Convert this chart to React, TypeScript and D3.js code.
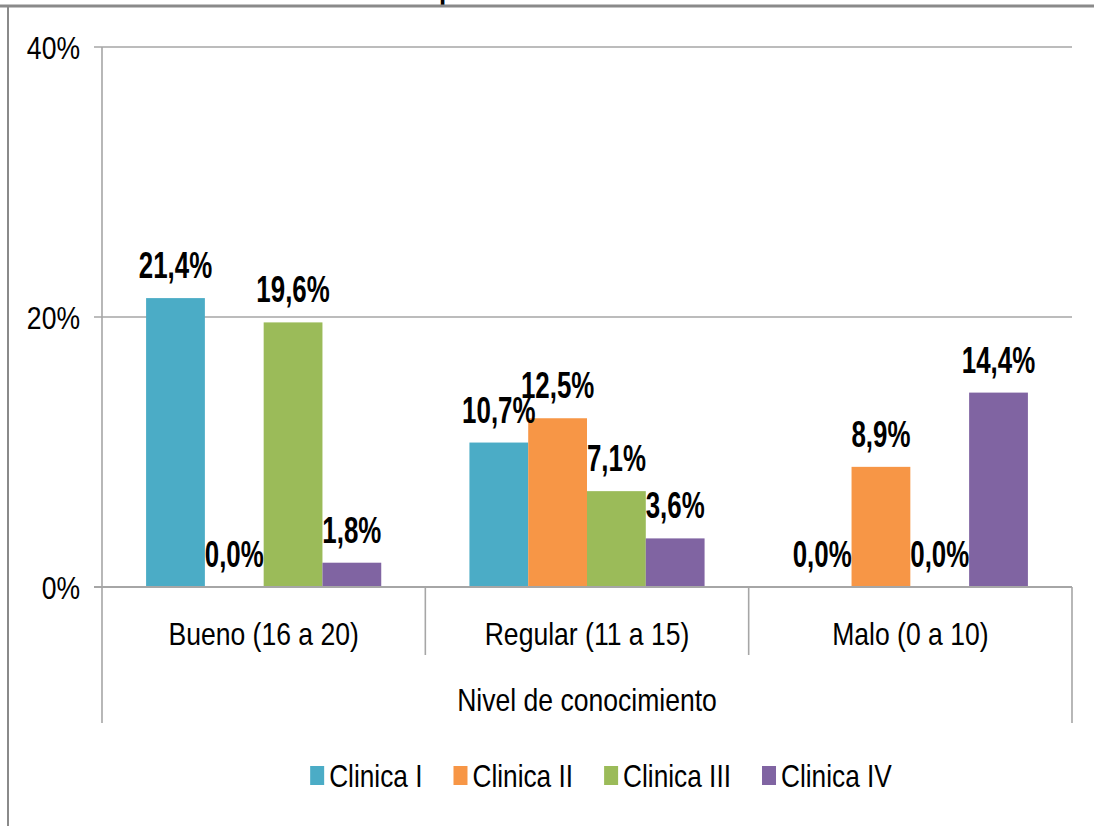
import React, { useEffect, useRef } from "react";
import * as d3 from "d3";

const categories = ["Bueno (16 a 20)", "Regular (11 a 15)", "Malo (0 a 10)"];
const seriesNames = ["Clinica I", "Clinica II", "Clinica III", "Clinica IV"];
const clinicaI = [21.4, 10.7, 0.0];
const clinicaII = [0.0, 12.5, 8.9];
const clinicaIII = [19.6, 7.1, 0.0];
const clinicaIV = [1.8, 3.6, 14.4];
const seriesValues = [clinicaI, clinicaII, clinicaIII, clinicaIV];
const seriesColors = ["#4BACC6", "#F79646", "#9BBB59", "#8064A2"];
const yTicks = [0, 20, 40];
const xAxisTitle = "Nivel de conocimiento";
const titleFragment = "p";

const W = 1094;
const H = 826;
const FONT = "'Liberation Sans', Arial, Helvetica, sans-serif";

export default function App() {
  const ref = useRef<SVGSVGElement | null>(null);

  useEffect(() => {
    const svg = d3.select(ref.current);
    svg.selectAll("*").remove();

    const left = 102;
    const right = 1072;
    const top = 47;
    const bottom = 587;

    const x0 = d3.scaleBand<string>().domain(categories).range([left, right]).padding(0);
    const x1 = d3
      .scaleBand<string>()
      .domain(seriesNames)
      .range([0, x0.bandwidth()])
      .paddingInner(0)
      .paddingOuter(0.75);
    const y = d3.scaleLinear().domain([0, 40]).range([bottom, top]);

    svg.append("rect").attr("width", W).attr("height", H).attr("fill", "#fff");

    // title fragment (cut off at top in the reference)
    svg
      .append("text")
      .attr("transform", `translate(447,-2) scale(0.7,1)`)
      .attr("text-anchor", "middle")
      .attr("font-family", FONT)
      .attr("font-weight", "bold")
      .attr("font-size", 37)
      .attr("fill", "#000")
      .text(titleFragment);

    // frame
    svg.append("line").attr("x1", 0).attr("x2", W).attr("y1", 6).attr("y2", 6)
      .attr("stroke", "#8a8a8a").attr("stroke-width", 3);
    svg.append("line").attr("x1", 8).attr("x2", 8).attr("y1", 6).attr("y2", H)
      .attr("stroke", "#8a8a8a").attr("stroke-width", 2);

    // gridlines + y labels
    yTicks.forEach((t) => {
      svg.append("line")
        .attr("x1", left - 8).attr("x2", right)
        .attr("y1", y(t)).attr("y2", y(t))
        .attr("stroke", "#a6a6a6").attr("stroke-width", t === 0 ? 2 : 1.6);
      svg.append("text")
        .attr("transform", `translate(80,${y(t) + 11.5}) scale(0.83,1)`)
        .attr("text-anchor", "end")
        .attr("font-family", FONT)
        .attr("font-size", 32)
        .attr("fill", "#000")
        .text(`${t}%`);
    });

    // axis lines and category separators
    svg.append("line").attr("x1", left).attr("x2", left).attr("y1", top).attr("y2", 723)
      .attr("stroke", "#a6a6a6").attr("stroke-width", 1.6);
    svg.append("line").attr("x1", right).attr("x2", right).attr("y1", bottom).attr("y2", 723)
      .attr("stroke", "#a6a6a6").attr("stroke-width", 1.6);
    categories.slice(1).forEach((c) => {
      const xx = x0(c)!;
      svg.append("line").attr("x1", xx).attr("x2", xx).attr("y1", bottom).attr("y2", 655)
        .attr("stroke", "#a6a6a6").attr("stroke-width", 1.6);
    });

    // bars
    seriesNames.forEach((s, si) => {
      categories.forEach((c, ci) => {
        const v = seriesValues[si][ci];
        const bx = x0(c)! + x1(s)!;
        if (v > 0) {
          svg.append("rect")
            .attr("x", bx).attr("y", y(v))
            .attr("width", x1.bandwidth())
            .attr("height", y(0) - y(v))
            .attr("fill", seriesColors[si]);
        }
      });
    });

    svg.append("line").attr("x1", left - 8).attr("x2", right)
      .attr("y1", bottom).attr("y2", bottom)
      .attr("stroke", "#a6a6a6").attr("stroke-width", 2);

    // data labels
    seriesNames.forEach((s, si) => {
      categories.forEach((c, ci) => {
        const v = seriesValues[si][ci];
        const cx = x0(c)! + x1(s)! + x1.bandwidth() / 2;
        svg.append("text")
          .attr("transform", `translate(${cx},${y(v) - 20}) scale(0.7,1)`)
          .attr("text-anchor", "middle")
          .attr("font-family", FONT)
          .attr("font-weight", "bold")
          .attr("font-size", 37)
          .attr("fill", "#000")
          .text(v.toFixed(1).replace(".", ",") + "%");
      });
    });

    // category labels
    categories.forEach((c) => {
      svg.append("text")
        .attr("transform", `translate(${x0(c)! + x0.bandwidth() / 2},645) scale(0.83,1)`)
        .attr("text-anchor", "middle")
        .attr("font-family", FONT)
        .attr("font-size", 32)
        .attr("fill", "#000")
        .text(c);
    });

    svg.append("text")
      .attr("transform", `translate(${(left + right) / 2},711) scale(0.83,1)`)
      .attr("text-anchor", "middle")
      .attr("font-family", FONT)
      .attr("font-size", 32)
      .attr("fill", "#000")
      .text(xAxisTitle);

    // legend
    const sx = 0.82;
    const sqW = 14;
    const sqH = 19;
    const gap = 5;
    const itemGap = 31;
    const legendCenter = 601;
    const legendBaseline = 787;
    const lg = svg.append("g");
    const widths: number[] = seriesNames.map((s) => {
      const t = lg.append("text")
        .attr("font-family", FONT)
        .attr("font-size", 32)
        .text(s);
      const w = (t.node() as SVGTextElement).getComputedTextLength() * sx;
      t.remove();
      return w;
    });
    const total = widths.reduce((a, w) => a + sqW + gap + w, 0) + itemGap * (seriesNames.length - 1);
    let cur = legendCenter - total / 2;
    seriesNames.forEach((s, i) => {
      lg.append("rect")
        .attr("x", cur).attr("y", legendBaseline - 21)
        .attr("width", sqW).attr("height", sqH)
        .attr("fill", seriesColors[i]);
      lg.append("text")
        .attr("transform", `translate(${cur + sqW + gap},${legendBaseline}) scale(${sx},1)`)
        .attr("font-family", FONT)
        .attr("font-size", 32)
        .attr("fill", "#000")
        .text(s);
      cur += sqW + gap + widths[i] + itemGap;
    });
  }, []);

  return (
    <svg
      ref={ref}
      width={W}
      height={H}
      style={{ position: "absolute", left: 0, top: 0, display: "block" }}
    />
  );
}
